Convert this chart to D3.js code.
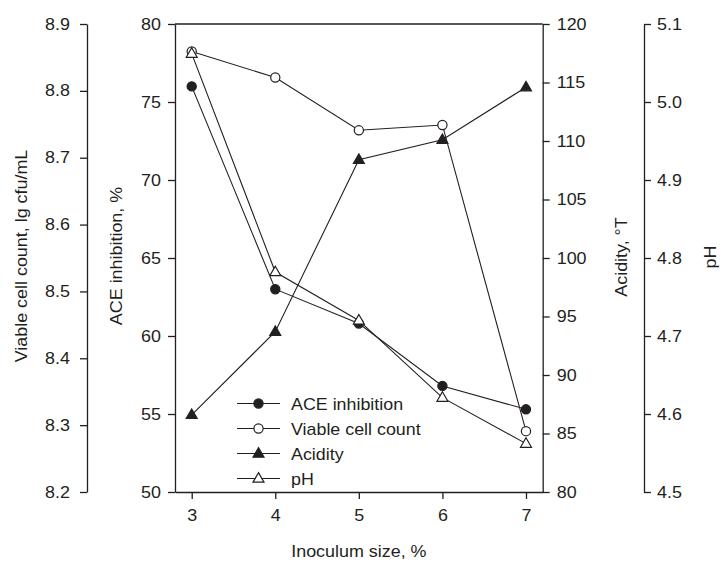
<!DOCTYPE html>
<html>
<head>
<meta charset="utf-8">
<script src="https://cdn.jsdelivr.net/npm/d3@7"></script>
<style>
  html, body { margin: 0; padding: 0; background: #fff; }
  svg { display: block; font-family: "Liberation Sans", Arial, sans-serif; }
</style>
</head>
<body>
<svg id="chart" width="720" height="562"></svg>
<script>
// ---- Data ----
const inoculum = [3, 4, 5, 6, 7];
const aceInhibition = [76.0, 63.0, 60.8, 56.8, 55.3];
const viableCount = [8.859, 8.820, 8.741, 8.749, 8.291];
const acidity = [86.6, 93.7, 108.4, 110.1, 114.6];
const phValues = [5.062, 4.782, 4.720, 4.621, 4.562];

const xTicks = [3, 4, 5, 6, 7];
const aceTicks = [50, 55, 60, 65, 70, 75, 80];
const viableTicks = [8.2, 8.3, 8.4, 8.5, 8.6, 8.7, 8.8, 8.9];
const acidityTicks = [80, 85, 90, 95, 100, 105, 110, 115, 120];
const phTicks = [4.5, 4.6, 4.7, 4.8, 4.9, 5.0, 5.1];

const seriesNames = ["ACE inhibition", "Viable cell count", "Acidity", "pH"];

// ---- Layout ----
const svg = d3.select("#chart");
const yTop = 24, yBottom = 492;
const plotLeft = 175, plotRight = 542.7;
const farLeft = 87, farRight = 644;
const SX = 1.12;
const ink = "#231f20";
const fs = 16;

const x = d3.scaleLinear().domain([2.8, 7.2]).range([plotLeft, plotRight]);
const yAce = d3.scaleLinear().domain([50, 80]).range([yBottom, yTop]);
const yViable = d3.scaleLinear().domain([8.2, 8.9]).range([yBottom, yTop]);
const yAcid = d3.scaleLinear().domain([80, 120]).range([yBottom, yTop]);
const yPh = d3.scaleLinear().domain([4.5, 5.1]).range([yBottom, yTop]);

function styleAxis(g) {
  g.selectAll("path.domain").attr("stroke", ink).attr("stroke-width", 1.3);
  g.selectAll(".tick line").attr("stroke", ink).attr("stroke-width", 1.3);
  g.selectAll(".tick text")
    .attr("fill", ink)
    .style("font-size", fs + "px")
    .style("font-family", '"Liberation Sans", Arial, sans-serif')
    .each(function() {
      const t = d3.select(this);
      const xv = +t.attr("x") || 0;
      t.attr("x", 0).attr("transform", `translate(${xv},0) scale(${SX},1)`);
    });
}

// Top frame line
svg.append("line")
  .attr("x1", plotLeft).attr("x2", plotRight)
  .attr("y1", yTop).attr("y2", yTop)
  .attr("stroke", ink).attr("stroke-width", 1.3);

// X axis
const gx = svg.append("g").attr("transform", `translate(0,${yBottom})`)
  .call(d3.axisBottom(x).tickValues(xTicks).tickSize(7).tickPadding(11).tickSizeOuter(0).tickFormat(d3.format("d")));
styleAxis(gx);

// ACE axis (inner left)
const gAce = svg.append("g").attr("transform", `translate(${plotLeft},0)`)
  .call(d3.axisLeft(yAce).tickValues(aceTicks).tickSize(7).tickPadding(7).tickSizeOuter(0).tickFormat(d3.format("d")));
styleAxis(gAce);

// Viable axis (far left)
const gV = svg.append("g").attr("transform", `translate(${farLeft},0)`)
  .call(d3.axisLeft(yViable).tickValues(viableTicks).tickSize(7).tickPadding(10).tickSizeOuter(0).tickFormat(d3.format(".1f")));
styleAxis(gV);

// Acidity axis (inner right)
const gA = svg.append("g").attr("transform", `translate(${plotRight},0)`)
  .call(d3.axisRight(yAcid).tickValues(acidityTicks).tickSize(7).tickPadding(7).tickSizeOuter(0).tickFormat(d3.format("d")));
styleAxis(gA);

// pH axis (far right)
const gP = svg.append("g").attr("transform", `translate(${farRight},0)`)
  .call(d3.axisRight(yPh).tickValues(phTicks).tickSize(7).tickPadding(6).tickSizeOuter(0).tickFormat(d3.format(".1f")));
styleAxis(gP);

// Axis titles
function vTitle(txt, xPos, yPos) {
  svg.append("text")
    .attr("transform", `translate(${xPos},${yPos}) rotate(-90) scale(${SX},1)`)
    .attr("text-anchor", "middle")
    .attr("fill", ink)
    .style("font-size", fs + "px")
    .text(txt);
}
vTitle("Viable cell count, lg cfu/mL", 27, 256);
vTitle("ACE inhibition, %", 122, 256);
vTitle("Acidity, °T", 627, 257);
vTitle("pH", 716, 257);

svg.append("text")
  .attr("transform", `translate(${(plotLeft + plotRight) / 2},557) scale(${SX},1)`)
  .attr("text-anchor", "middle")
  .attr("fill", ink)
  .style("font-size", fs + "px")
  .text("Inoculum size, %");

// ---- Series ----
const triangle = d3.symbol().type(d3.symbolTriangle).size(52);
const series = [
  { name: seriesNames[0], vals: aceInhibition, y: yAce, shape: "circle", fill: ink },
  { name: seriesNames[1], vals: viableCount, y: yViable, shape: "circle", fill: "#fff" },
  { name: seriesNames[2], vals: acidity, y: yAcid, shape: "triangle", fill: ink },
  { name: seriesNames[3], vals: phValues, y: yPh, shape: "triangle", fill: "#fff" }
];

function drawMarker(g, s, cx, cy) {
  if (s.shape === "circle") {
    g.append("circle").attr("cx", cx).attr("cy", cy).attr("r", 4.6)
      .attr("fill", s.fill).attr("stroke", ink).attr("stroke-width", 1.2);
  } else {
    g.append("path").attr("d", triangle())
      .attr("transform", `translate(${cx},${cy + 0.5})`)
      .attr("fill", s.fill).attr("stroke", ink).attr("stroke-width", 1.2);
  }
}

series.forEach(s => {
  const g = svg.append("g");
  const line = d3.line().x((d, i) => x(inoculum[i])).y(d => s.y(d));
  g.append("path").datum(s.vals).attr("d", line)
    .attr("fill", "none").attr("stroke", ink).attr("stroke-width", 1.1);
  s.vals.forEach((v, i) => drawMarker(g, s, x(inoculum[i]), s.y(v)));
});

// ---- Legend ----
const lg = svg.append("g");
series.forEach((s, i) => {
  const cy = 403.5 + i * 25;
  lg.append("line").attr("x1", 237).attr("x2", 280).attr("y1", cy).attr("y2", cy)
    .attr("stroke", ink).attr("stroke-width", 1.1);
  drawMarker(lg, s, 258.5, cy);
  lg.append("text")
    .attr("transform", `translate(291,${cy + 6}) scale(1.05,1)`)
    .attr("fill", ink)
    .style("font-size", "17px")
    .text(s.name);
});
</script>
</body>
</html>
